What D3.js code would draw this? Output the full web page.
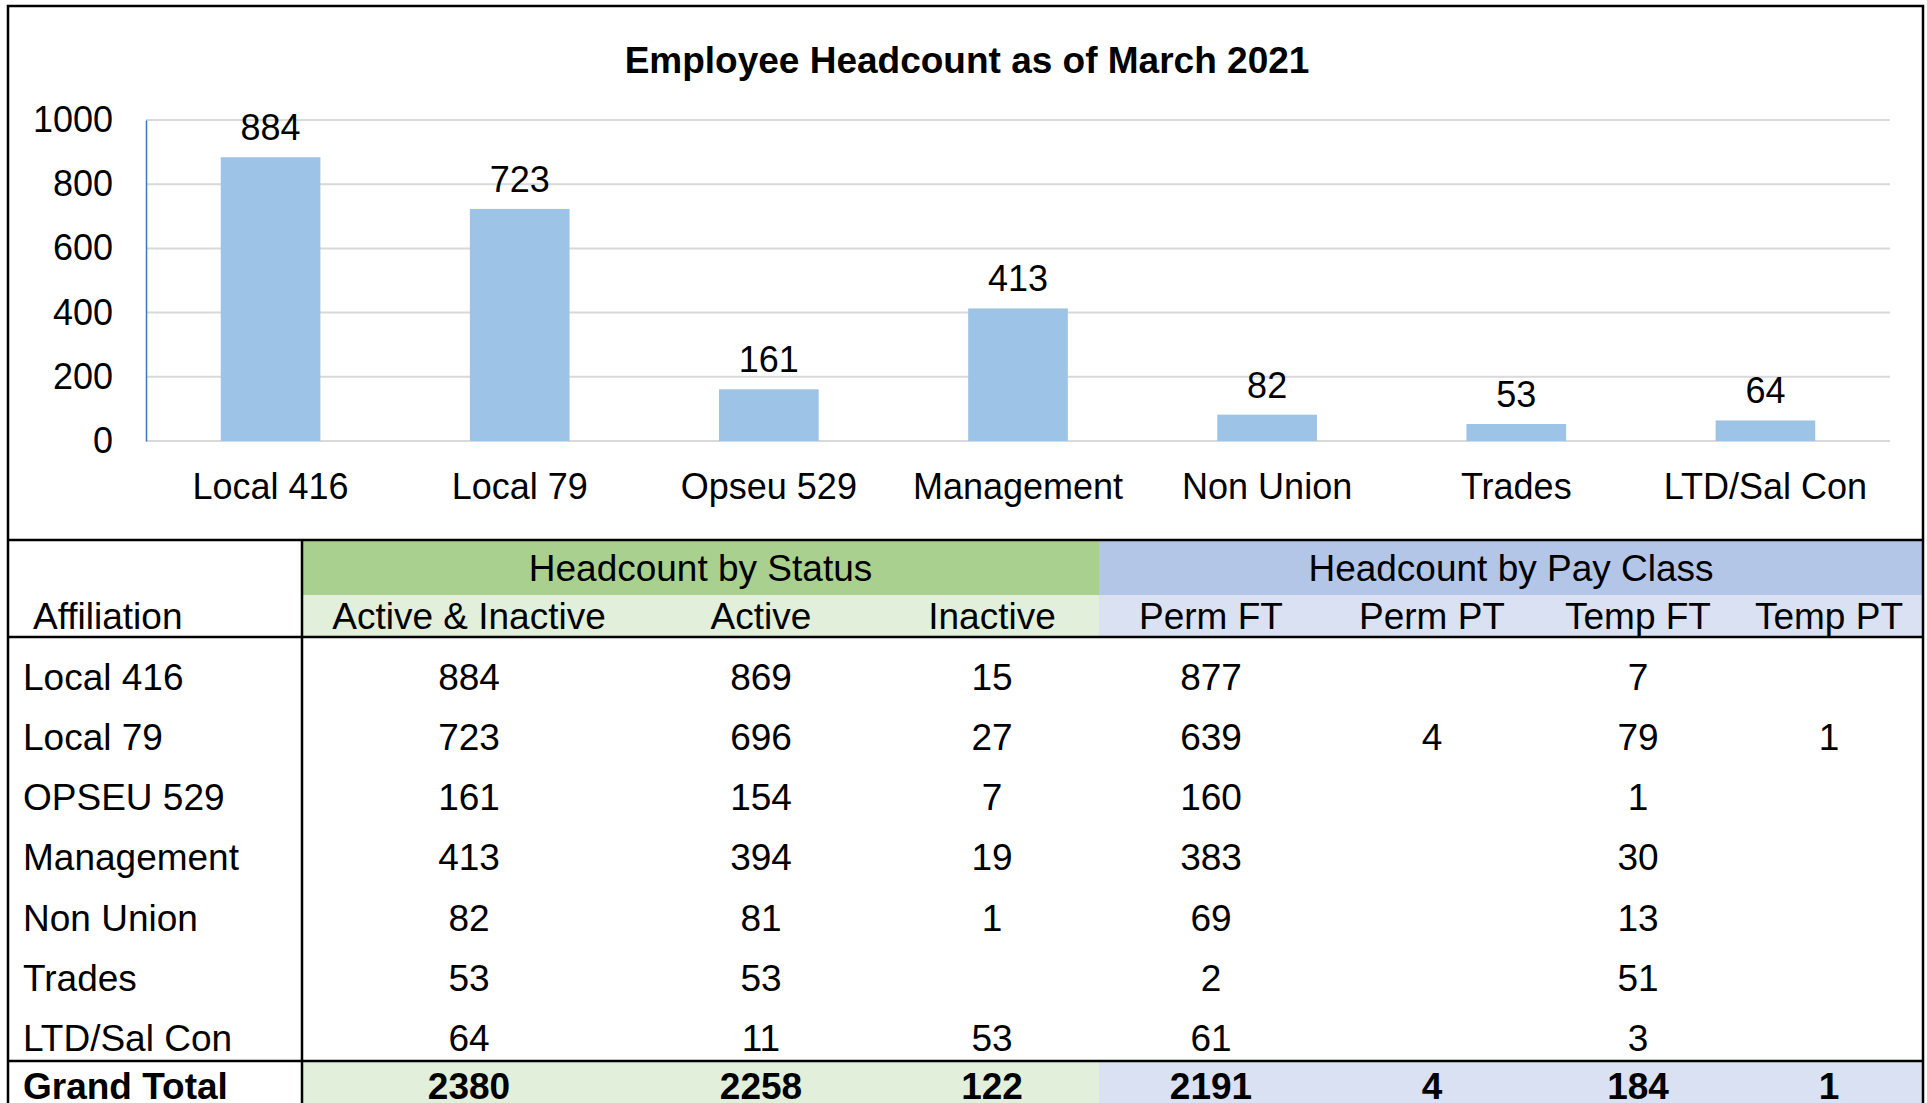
<!DOCTYPE html>
<html>
<head>
<meta charset="utf-8">
<script src="https://cdn.jsdelivr.net/npm/d3@7"></script>
<style>
  body { margin: 0; background: #fff; }
  svg text { font-family: "Liberation Sans", Arial, sans-serif; fill: #000; }
</style>
</head>
<body>
<svg id="chart" width="1927" height="1103"></svg>
<script>
// chart data
const affiliations = ["Local 416", "Local 79", "Opseu 529", "Management", "Non Union", "Trades", "LTD/Sal Con"];
const headcount = [884, 723, 161, 413, 82, 53, 64];
const yTicks = [0, 200, 400, 600, 800, 1000];

// table data
const rowNames = ["Local 416", "Local 79", "OPSEU 529", "Management", "Non Union", "Trades", "LTD/Sal Con"];
const statusCols = ["Active & Inactive", "Active", "Inactive"];
const payCols = ["Perm FT", "Perm PT", "Temp FT", "Temp PT"];
const activeInactive = [884, 723, 161, 413, 82, 53, 64];
const active = [869, 696, 154, 394, 81, 53, 11];
const inactive = [15, 27, 7, 19, 1, null, 53];
const permFT = [877, 639, 160, 383, 69, 2, 61];
const permPT = [null, 4, null, null, null, null, null];
const tempFT = [7, 79, 1, 30, 13, 51, 3];
const tempPT = [null, 1, null, null, null, null, null];
const grandTotal = [2380, 2258, 122, 2191, 4, 184, 1];

const svg = d3.select("#chart");
const W = 1927, H = 1103;

// ---- bar chart ----
const x = d3.scaleBand()
  .domain(affiliations)
  .range([146, 1890])
  .paddingInner(0.6)
  .paddingOuter(0.3);

const y = d3.scaleLinear().domain([0, 1000]).range([441, 120]);

// gridlines
svg.append("g")
  .selectAll("line")
  .data(yTicks)
  .join("line")
  .attr("x1", 146).attr("x2", 1890)
  .attr("y1", d => y(d)).attr("y2", d => y(d))
  .attr("stroke", "#d9d9d9")
  .attr("stroke-width", 2);

// y axis
const yAxis = svg.append("g")
  .attr("transform", "translate(146,0)")
  .call(d3.axisLeft(y).tickValues(yTicks).tickFormat(d3.format("d")).tickSize(0).tickPadding(33));
yAxis.select(".domain").attr("stroke", "#4472c4").attr("stroke-width", 1.5);
yAxis.selectAll("text")
  .attr("font-size", 36)
  .attr("font-family", "Liberation Sans, Arial, sans-serif");

svg.append("g")
  .selectAll("rect")
  .data(headcount)
  .join("rect")
  .attr("x", (d, i) => x(affiliations[i]))
  .attr("width", x.bandwidth())
  .attr("y", d => y(d))
  .attr("height", d => y(0) - y(d))
  .attr("fill", "#9dc3e6");

// value labels
svg.append("g")
  .selectAll("text")
  .data(headcount)
  .join("text")
  .attr("x", (d, i) => x(affiliations[i]) + x.bandwidth() / 2)
  .attr("y", d => y(d) - 17)
  .attr("text-anchor", "middle")
  .attr("font-size", 36)
  .text(d => d);

// category labels
svg.append("g")
  .selectAll("text")
  .data(affiliations)
  .join("text")
  .attr("x", d => x(d) + x.bandwidth() / 2)
  .attr("y", 499)
  .attr("text-anchor", "middle")
  .attr("font-size", 36)
  .text(d => d);

svg.append("text")
  .attr("x", 967)
  .attr("y", 73)
  .attr("text-anchor", "middle")
  .attr("font-size", 37)
  .attr("font-weight", "bold")
  .text("Employee Headcount as of March 2021");

// ---- table ----
const left = 8, right = 1923, divX = 302, groupSplit = 1099;
const topY = 540, hdrMid = 595, hdrBottom = 637, totalTop = 1061;
const colCenters = [469, 761, 992, 1211, 1432, 1638, 1829];
const rowY = d3.scalePoint().domain(rowNames).range([677, 1038]);
const fs = 37;

// header backgrounds
svg.append("rect").attr("x", divX).attr("y", topY).attr("width", groupSplit - divX).attr("height", hdrMid - topY).attr("fill", "#a9d08e");
svg.append("rect").attr("x", divX).attr("y", hdrMid).attr("width", groupSplit - divX).attr("height", hdrBottom - hdrMid).attr("fill", "#e2efda");
svg.append("rect").attr("x", groupSplit).attr("y", topY).attr("width", right - groupSplit).attr("height", hdrMid - topY).attr("fill", "#b4c6e7");
svg.append("rect").attr("x", groupSplit).attr("y", hdrMid).attr("width", right - groupSplit).attr("height", hdrBottom - hdrMid).attr("fill", "#d9e1f2");
// grand total backgrounds
svg.append("rect").attr("x", divX).attr("y", totalTop).attr("width", groupSplit - divX).attr("height", H - totalTop).attr("fill", "#e2efda");
svg.append("rect").attr("x", groupSplit).attr("y", totalTop).attr("width", right - groupSplit).attr("height", H - totalTop).attr("fill", "#d9e1f2");

// group headers
svg.append("text").attr("x", (divX + groupSplit) / 2).attr("y", 568).attr("dy", "0.35em")
  .attr("text-anchor", "middle").attr("font-size", fs).text("Headcount by Status");
svg.append("text").attr("x", (groupSplit + right) / 2).attr("y", 568).attr("dy", "0.35em")
  .attr("text-anchor", "middle").attr("font-size", fs).text("Headcount by Pay Class");

// column headers
svg.append("text").attr("x", 33).attr("y", 616).attr("dy", "0.35em").attr("font-size", fs).text("Affiliation");
svg.append("g")
  .selectAll("text")
  .data(statusCols.concat(payCols))
  .join("text")
  .attr("x", (d, i) => colCenters[i])
  .attr("y", 616).attr("dy", "0.35em")
  .attr("text-anchor", "middle")
  .attr("font-size", fs)
  .text(d => d);

// body rows
const columns = [activeInactive, active, inactive, permFT, permPT, tempFT, tempPT];
const body = svg.append("g");
rowNames.forEach((name, r) => {
  body.append("text")
    .attr("x", 23).attr("y", rowY(name)).attr("dy", "0.35em")
    .attr("font-size", fs).text(name);
  columns.forEach((col, c) => {
    if (col[r] == null) return;
    body.append("text")
      .attr("x", colCenters[c]).attr("y", rowY(name)).attr("dy", "0.35em")
      .attr("text-anchor", "middle").attr("font-size", fs)
      .text(col[r]);
  });
});

// grand total row
svg.append("text").attr("x", 23).attr("y", 1086).attr("dy", "0.35em")
  .attr("font-size", fs).attr("font-weight", "bold").text("Grand Total");
svg.append("g")
  .selectAll("text")
  .data(grandTotal)
  .join("text")
  .attr("x", (d, i) => colCenters[i])
  .attr("y", 1086).attr("dy", "0.35em")
  .attr("text-anchor", "middle")
  .attr("font-size", fs)
  .attr("font-weight", "bold")
  .text(d => d);

// rules
const rules = svg.append("g").attr("stroke", "#000").attr("stroke-width", 2.5);
rules.append("line").attr("x1", left).attr("x2", right).attr("y1", topY).attr("y2", topY);
rules.append("line").attr("x1", left).attr("x2", right).attr("y1", hdrBottom).attr("y2", hdrBottom);
rules.append("line").attr("x1", left).attr("x2", right).attr("y1", totalTop).attr("y2", totalTop);
rules.append("line").attr("x1", divX).attr("x2", divX).attr("y1", topY).attr("y2", H);
rules.append("rect").attr("x", left).attr("y", 6).attr("width", right - left).attr("height", H)
  .attr("fill", "none");
</script>
</body>
</html>
